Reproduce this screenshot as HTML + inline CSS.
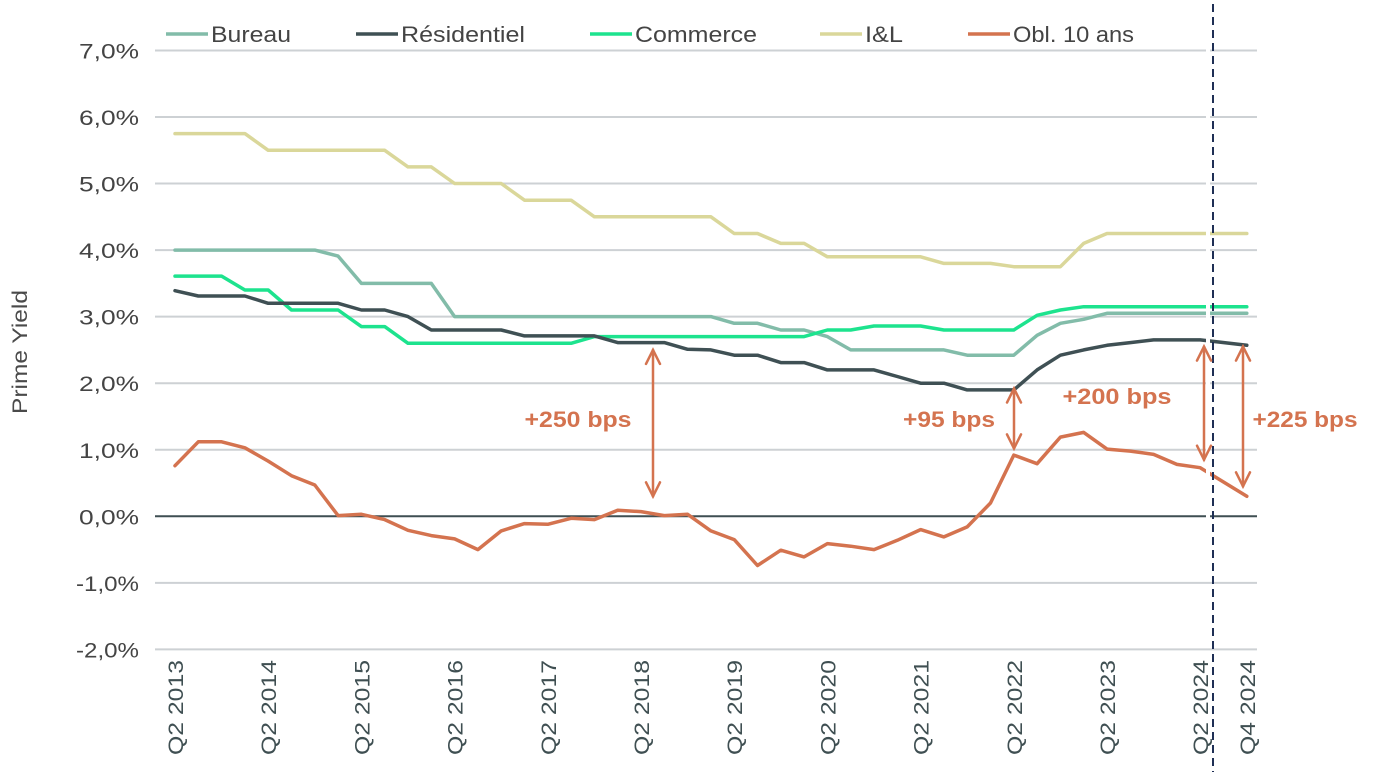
<!DOCTYPE html>
<html><head><meta charset="utf-8"><style>
html,body{margin:0;padding:0;background:#fff;}
svg{display:block;font-family:"Liberation Sans",sans-serif;}
</style></head><body>
<svg id="chart" width="1381" height="776" viewBox="0 0 1381 776" xmlns="http://www.w3.org/2000/svg">
<g id="grid"></g>
<g id="yticks"></g>
<g id="xticks"></g>
<g id="series"></g>
<g id="legend"></g>
<g id="annot"></g>
<text x="27" y="352" transform="rotate(-90 27 352)" text-anchor="middle" font-size="21" textLength="124" lengthAdjust="spacingAndGlyphs" fill="#4a4a4a">Prime Yield</text>
</svg>
<script>
const yTicks = [7,6,5,4,3,2,1,0,-1,-2];
const yTickLabels = ["7,0%","6,0%","5,0%","4,0%","3,0%","2,0%","1,0%","0,0%","-1,0%","-2,0%"];
const xTickIdx = [0,4,8,12,16,20,24,28,32,36,40,44,46];
const xTickLabels = ["Q2 2013","Q2 2014","Q2 2015","Q2 2016","Q2 2017","Q2 2018","Q2 2019","Q2 2020","Q2 2021","Q2 2022","Q2 2023","Q2 2024","Q4 2024"];
const seriesNames = ["Bureau","Résidentiel","Commerce","I&L","Obl. 10 ans"];
// index 0..44 = Q2 2013..Q2 2024, index 45 = Q4 2024
const bureau = [4,4,4,4,4,4,4,3.91,3.5,3.5,3.5,3.5,3,3,3,3,3,3,3,3,3,3,3,3,2.9,2.9,2.8,2.8,2.7,2.5,2.5,2.5,2.5,2.5,2.42,2.42,2.42,2.72,2.9,2.96,3.05,3.05,3.05,3.05,3.05,3.05];
const residentiel = [3.39,3.31,3.31,3.31,3.2,3.2,3.2,3.2,3.1,3.1,3.0,2.8,2.8,2.8,2.8,2.71,2.71,2.71,2.71,2.61,2.61,2.61,2.51,2.5,2.42,2.42,2.31,2.31,2.2,2.2,2.2,2.1,2.0,2.0,1.9,1.9,1.9,2.2,2.42,2.5,2.57,2.61,2.65,2.65,2.65,2.57];
const commerce = [3.61,3.61,3.61,3.4,3.4,3.1,3.1,3.1,2.85,2.85,2.6,2.6,2.6,2.6,2.6,2.6,2.6,2.6,2.7,2.7,2.7,2.7,2.7,2.7,2.7,2.7,2.7,2.7,2.8,2.8,2.86,2.86,2.86,2.8,2.8,2.8,2.8,3.02,3.1,3.15,3.15,3.15,3.15,3.15,3.15,3.15];
const il = [5.75,5.75,5.75,5.75,5.5,5.5,5.5,5.5,5.5,5.5,5.25,5.25,5.0,5.0,5.0,4.75,4.75,4.75,4.5,4.5,4.5,4.5,4.5,4.5,4.25,4.25,4.1,4.1,3.9,3.9,3.9,3.9,3.9,3.8,3.8,3.8,3.75,3.75,3.75,4.1,4.25,4.25,4.25,4.25,4.25,4.25];
const obl = [0.76,1.12,1.12,1.03,0.83,0.61,0.47,0.01,0.03,-0.05,-0.21,-0.29,-0.34,-0.5,-0.22,-0.11,-0.12,-0.03,-0.05,0.09,0.07,0.01,0.03,-0.22,-0.35,-0.74,-0.51,-0.61,-0.41,-0.45,-0.5,-0.36,-0.2,-0.31,-0.16,0.2,0.92,0.79,1.19,1.26,1.01,0.98,0.93,0.78,0.73,0.3];
const spreadLabels = ["+250 bps","+95 bps","+200 bps","+225 bps"];
const spreadIdx = [20,36,44,46];

const NS="http://www.w3.org/2000/svg";
function y(v){return 516.3 - v*66.55;}
function xi(i){return i<=44 ? 175 + i*23.3 : 175 + 46*23.3;}
function xs(k){return xi(k<=44?k:46);}
function mk(tag,attrs,parent){const e=document.createElementNS(NS,tag);for(const k in attrs)e.setAttribute(k,attrs[k]);parent.appendChild(e);return e;}
const grid=document.getElementById('grid'),yt=document.getElementById('yticks'),xt=document.getElementById('xticks'),ser=document.getElementById('series'),leg=document.getElementById('legend'),an=document.getElementById('annot');
yTicks.forEach((v,i)=>{
  const l=mk('line',{x1:155,x2:1257,y1:y(v),y2:y(v),stroke:v===0?'#3f4f52':'#cdd1d4','stroke-width':2},grid);
  
  
  const t=mk('text',{x:139,y:y(v)+8,'text-anchor':'end','font-size':21,fill:'#444',textLength:v<0?63:60,lengthAdjust:'spacingAndGlyphs'},yt);
  t.textContent=yTickLabels[i];
  
  
});
xTickIdx.forEach((idx,i)=>{
  const x=xi(idx)+8;
  const t=mk('text',{x:x,y:660,'text-anchor':'end','font-size':21,fill:'#3f4f52',textLength:95,lengthAdjust:'spacingAndGlyphs',transform:`rotate(-90 ${x} 660)`},xt);
  t.textContent=xTickLabels[i];
  
  
});
const colors=['#82bca9','#3f5054','#1de38e','#dad79a','#d4734f'];
const data=[bureau,residentiel,commerce,il,obl];
const order=[3,0,2,1,4];
order.forEach(s=>{
  const pts=data[s].map((v,k)=>xs(k).toFixed(1)+','+y(v).toFixed(1)).join(' ');
  const p=mk('polyline',{points:pts,fill:'none',stroke:colors[s],'stroke-width':3.5,'stroke-linejoin':'round','stroke-linecap':'round'},ser);
  
  
});
const gap=mk('rect',{x:1206,y:40,width:4,height:500,fill:'#fff'},ser);


const dl=mk('line',{x1:1213,x2:1213,y1:4,y2:772,stroke:'#1f2f55','stroke-width':2,'stroke-dasharray':'8,5'},ser);


const legX=[166,356,590,820,968];
const legW=[80,124,122,38,121];
seriesNames.forEach((n,i)=>{
  const g=mk('g',{},leg);
  
  
  mk('line',{x1:legX[i],x2:legX[i]+42,y1:34,y2:34,stroke:colors[i],'stroke-width':3.5},g);
  const t=mk('text',{x:legX[i]+45,y:42,'font-size':22,fill:'#444',textLength:legW[i],lengthAdjust:'spacingAndGlyphs'},g);
  t.textContent=n;
});
const arrowX=[653,1014,1204,1243];
const arrowTop=[2.5,1.92,2.55,2.55];
const arrowBot=[0.3,1.02,0.85,0.45];
const labPos=[[578,427],[949,427],[1117,404],[1305,427]];
const labW=[107,92,109,105];
const oc='#d4734f';
spreadIdx.forEach((k,i)=>{
  const x=arrowX[i],t=y(arrowTop[i]),b=y(arrowBot[i]);
  const g=mk('g',{stroke:oc,'stroke-width':2.5,fill:'none','stroke-linecap':'round'},an);
  
  
  mk('line',{x1:x,x2:x,y1:t,y2:b},g);
  mk('polyline',{points:`${x-7},${t+14} ${x},${t} ${x+7},${t+14}`},g);
  mk('polyline',{points:`${x-7},${b-14} ${x},${b} ${x+7},${b-14}`},g);
  const tx=mk('text',{x:labPos[i][0],y:labPos[i][1],'text-anchor':'middle','font-size':22,'font-weight':'bold',fill:oc,textLength:labW[i],lengthAdjust:'spacingAndGlyphs'},an);
  tx.textContent=spreadLabels[i];
  
  
});
</script>
</body></html>
